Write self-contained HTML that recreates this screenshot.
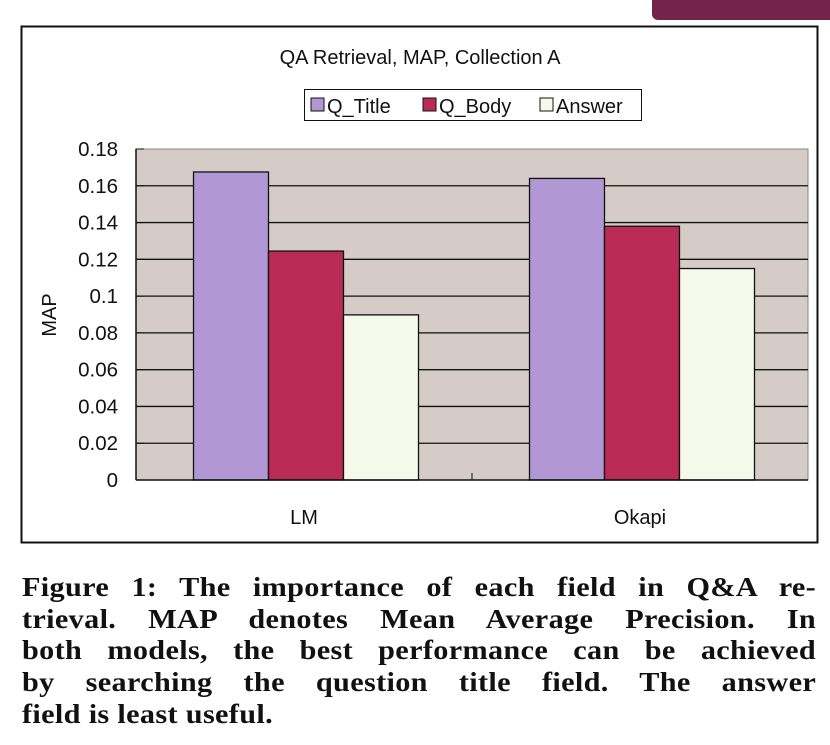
<!DOCTYPE html>
<html><head><meta charset="utf-8"><style>
body{margin:0;width:830px;height:745px;background:#fff;position:relative;overflow:hidden;font-family:"Liberation Sans",sans-serif}
#banner{position:absolute;left:652px;top:-10px;width:190px;height:30px;background:#74234a;border-radius:6px}
#cap{position:absolute;left:22px;top:572px;width:709px;transform:scaleX(1.12);transform-origin:0 0;font-family:"Liberation Serif",serif;font-weight:bold;font-size:27px;line-height:31.7px;letter-spacing:0.3px;color:#111}
#cap div{text-align:justify;text-align-last:justify;white-space:nowrap}
#cap div.last{text-align-last:left}
</style></head><body>
<div id="banner"></div>
<svg width="830" height="560" style="position:absolute;left:0;top:0" id="chart">
<rect x="21.5" y="26.5" width="796" height="516" fill="#fff" stroke="#111" stroke-width="2"/>
<text x="420" y="64" text-anchor="middle" font-size="20" fill="#111">QA Retrieval, MAP, Collection A</text>
<g>
<rect x="304.5" y="89.5" width="337" height="31" fill="#fff" stroke="#111"/>
<rect x="311" y="98" width="13" height="13" fill="#b197d3" stroke="#111"/>
<text x="327" y="113" font-size="20" fill="#111">Q_Title</text>
<rect x="423" y="98" width="13" height="13" fill="#b92a55" stroke="#111"/>
<text x="439" y="113" font-size="20" fill="#111">Q_Body</text>
<rect x="540" y="98" width="13" height="13" fill="#f5f9ea" stroke="#111"/>
<text x="556" y="113" font-size="20" fill="#111">Answer</text>
</g>
<rect x="136" y="149" width="672" height="331" fill="#d5ccc7" stroke="#888"/>
<g id="grid"></g><g id="bars"></g><g id="axes"></g>
<text transform="translate(56,315) rotate(-90)" text-anchor="middle" font-size="20" fill="#111">MAP</text>
</svg>
<div id="cap">
<div>Figure 1: The importance of each field in Q&amp;A re-</div>
<div>trieval. MAP denotes Mean Average Precision. In</div>
<div>both models, the best performance can be achieved</div>
<div>by searching the question title field. The answer</div>
<div class="last">field is least useful.</div>
</div>
<script>
const categories=["LM","Okapi"];
const seriesNames=["Q_Title","Q_Body","Answer"];
const qTitle=[0.1675,0.164];
const qBody=[0.1245,0.138];
const answer=[0.0898,0.115];
const yTicks=[0,0.02,0.04,0.06,0.08,0.1,0.12,0.14,0.16,0.18];
const yTickLabels=["0","0.02","0.04","0.06","0.08","0.1","0.12","0.14","0.16","0.18"];
const NS="http://www.w3.org/2000/svg";
const X0=136,X1=808,Y0=480,Y1=149,YMAX=0.18;
const y=v=>Y0-(v/YMAX)*(Y0-Y1);
const groupW=(X1-X0)/categories.length;
const barW=75;
const xBar=(c,s)=>X0+groupW*c+groupW/2-1.5*barW+s*barW+2;
function mk(t,a,p){const e=document.createElementNS(NS,t);for(const k in a)e.setAttribute(k,a[k]);p.appendChild(e);return e;}
const grid=document.getElementById('grid'),bars=document.getElementById('bars'),axes=document.getElementById('axes');
yTicks.forEach((v,i)=>{
 if(v>0&&v<YMAX){const l=mk('line',{x1:X0,x2:X1,y1:y(v),y2:y(v),stroke:'#111','stroke-width':1.3},grid);
 
 }
 mk('line',{x1:X0,x2:X0+8,y1:y(v),y2:y(v),stroke:'#111'},axes);
 const t=mk('text',{x:X0-18,y:y(v)+7,'text-anchor':'end','font-size':20.5,fill:'#111'},axes);
 t.textContent=yTickLabels[i];
 
 
});
const colors=["#b197d3","#b92a55","#f5f9ea"];
[qTitle,qBody,answer].forEach((arr,s)=>arr.forEach((v,c)=>{
 const r=mk('rect',{x:xBar(c,s),y:y(v),width:barW,height:Y0-y(v),fill:colors[s],stroke:'#111','stroke-width':1.3},bars);
 
 
}));
mk('line',{x1:X0,x2:X1,y1:Y0,y2:Y0,stroke:'#111','stroke-width':1.5},axes);
mk('line',{x1:X0,x2:X0,y1:Y0,y2:Y1,stroke:'#111','stroke-width':1.5},axes);
for(let c=1;c<categories.length;c++)mk('line',{x1:X0+groupW*c,x2:X0+groupW*c,y1:Y0,y2:Y0-7,stroke:'#111'},axes);
categories.forEach((n,c)=>{const t=mk('text',{x:X0+groupW*c+groupW/2,y:524,'text-anchor':'middle','font-size':20,fill:'#111'},axes);
 t.textContent=n;
 
 });
</script>
</body></html>
